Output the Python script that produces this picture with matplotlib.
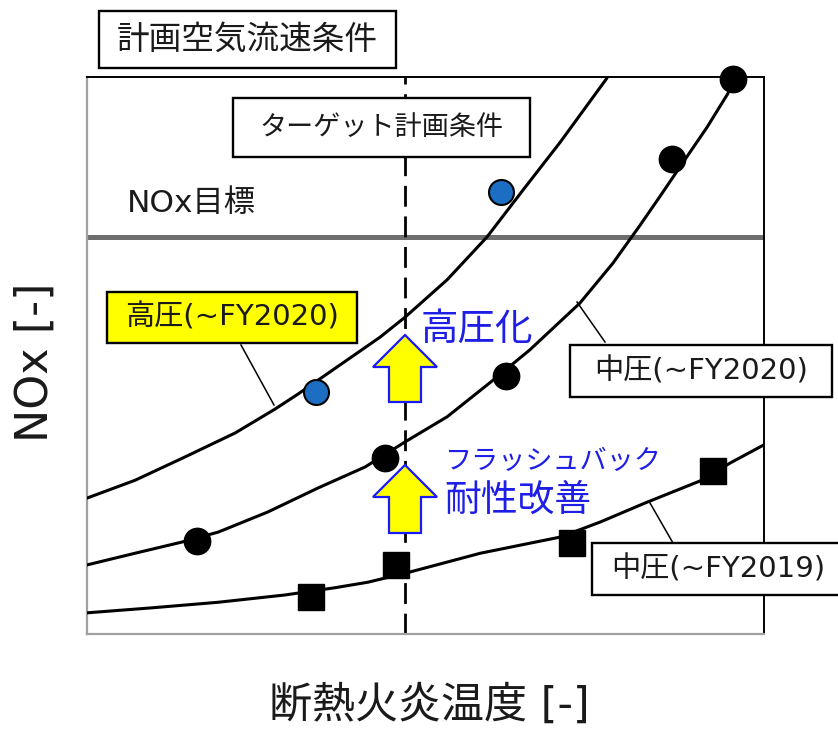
import numpy as np
import matplotlib
matplotlib.use("Agg")
from matplotlib import pyplot as plt
from matplotlib.patches import Rectangle, Polygon
from matplotlib.transforms import Affine2D

plt.rcParams['font.family'] = ['DejaVu Sans', 'Noto Sans CJK JP']

# measured points (arbitrary units 0-100 on both axes)
hp2020_x = [33.8, 61.2]
hp2020_y = [43.4, 79.4]
mp2020_x = [16.2, 44.0, 61.9, 86.4, 95.4]
mp2020_y = [16.7, 31.6, 46.3, 85.3, 99.6]
mp2019_x = [33.1, 45.6, 71.6, 92.5]
mp2019_y = [6.6, 12.4, 16.3, 29.3]

# hand-drawn trend curves
hp_curve_x = [0, 7.1, 14.5, 21.9, 27.8, 31.2, 43.3, 47.0, 53.2, 59.1, 64.4, 69.9, 76.8]
hp_curve_y = [24.4, 27.6, 31.8, 36.1, 40.4, 43.1, 53.3, 56.9, 63.6, 71.3, 79.7, 88.3, 99.8]
mp20_curve_x = [0, 7.1, 14.0, 19.4, 26.7, 34.1, 41.1, 47.0, 53.2, 59.5, 65.4, 72.8,
                77.7, 81.7, 84.6, 88.0, 91.6, 94.7]
mp20_curve_y = [12.4, 14.5, 16.5, 18.3, 21.9, 26.2, 30.0, 34.5, 39.0, 45.1, 51.0, 59.4,
                66.6, 73.4, 78.5, 84.6, 91.0, 97.1]
mp19_curve_x = [0, 9.6, 19.4, 29.2, 36.6, 41.5, 47.3, 58.1, 69.9, 75.8, 82.4, 90.8, 95.0, 99.9]
mp19_curve_y = [3.8, 4.7, 5.7, 7.0, 8.3, 9.3, 11.0, 14.5, 17.4, 20.1, 23.5, 27.6, 30.7, 33.9]

nox_target = 71.3
plan_temp = 47.0

fig = plt.figure(figsize=(8.38, 7.36), dpi=100)
ax = fig.add_axes([87/838, 102/736, 677/838, 557/736])
ax.set_xlim(0, 100)
ax.set_ylim(0, 100)
ax.set_xticks([])
ax.set_yticks([])
for s in ['left', 'bottom']:
    ax.spines[s].set_color('#a0a0a0')
    ax.spines[s].set_linewidth(1.6)
for s in ['top', 'right']:
    ax.spines[s].set_color('black')
    ax.spines[s].set_linewidth(1.4)

# curves
for cx, cy in [(hp_curve_x, hp_curve_y), (mp20_curve_x, mp20_curve_y), (mp19_curve_x, mp19_curve_y)]:
    ax.plot(cx, cy, color='black', lw=2.2, solid_capstyle='round', solid_joinstyle='round', zorder=3)

ax.axhline(nox_target, color='#6e6e6e', lw=3.6, zorder=2)
ax.axvline(plan_temp, color='black', lw=2.0, linestyle=(0, (7.5, 3.5)), zorder=2)

ax.plot(hp2020_x, hp2020_y, 'o', ms=18, mfc='#1b6ec2', mec='black', mew=1.5, zorder=5, clip_on=False)
ax.plot(mp2020_x, mp2020_y, 'o', ms=19, mfc='black', mec='black', zorder=5, clip_on=False)
ax.plot(mp2019_x, mp2019_y, 's', ms=19, mfc='black', mec='black', zorder=5, clip_on=False)

# annotations in pixel coordinates (origin top-left)
px = Affine2D().scale(1/100., -1/100.).translate(0, 7.36) + fig.dpi_scale_trans


def box(x0, y0, x1, y1, text, size, fc='white'):
    fig.add_artist(Rectangle((x0, y0), x1 - x0, y1 - y0, transform=px,
                             fc=fc, ec='black', lw=1.7, zorder=6))
    fig.text((x0 + x1) / 2, (y0 + y1) / 2, text, transform=px, fontsize=size,
             ha='center', va='center', color='#1a1a1a', zorder=7)


def leader(x0, y0, x1, y1):
    fig.add_artist(plt.Line2D([x0, x1], [y0, y1], transform=px, color='black', lw=1.1, zorder=6))


def up_arrow(xc, tip, base, bottom):
    pts = [(xc, tip), (xc + 32, base), (xc + 16, base), (xc + 16, bottom),
           (xc - 16, bottom), (xc - 16, base), (xc - 32, base)]
    fig.add_artist(Polygon(pts, closed=True, transform=px, fc='#ffff00', ec='#1a1aff', lw=1.6, zorder=6))


box(99, 11, 396, 68, '計画空気流速条件', 23.5)
box(233, 98, 530, 157, 'ターゲット計画条件', 19.5)
box(107, 292, 357, 343, '高圧(~FY2020)', 21, fc='#ffff00')
box(570, 345, 832, 397, '中圧(~FY2020)', 21)
box(592, 543, 845, 595, '中圧(~FY2019)', 21)

leader(241, 345, 274, 405)
leader(577, 302, 605, 342)
leader(650, 503, 673, 543)

fig.text(127, 203, 'NOx目標', transform=px, fontsize=22.5, ha='left', va='center', color='#1a1a1a')

up_arrow(405, 335, 367, 402)
up_arrow(405, 465, 497, 533)

blue = '#1e1ee6'
fig.text(421, 330, '高圧化', transform=px, fontsize=27, ha='left', va='center', color=blue, zorder=7)
fig.text(444, 462, 'フラッシュバック', transform=px, fontsize=19.5, ha='left', va='center', color=blue, zorder=7)
fig.text(444, 500, '耐性改善', transform=px, fontsize=26.5, ha='left', va='center', color=blue, zorder=7)

fig.text(429, 706, '断熱火炎温度 [-]', transform=px, fontsize=31, ha='center', va='center', color='#1a1a1a')
fig.text(35, 362, 'NOx [-]', transform=px, fontsize=32, ha='center', va='center', rotation=90, color='#1a1a1a')

fig.savefig('out.png', dpi=100)
